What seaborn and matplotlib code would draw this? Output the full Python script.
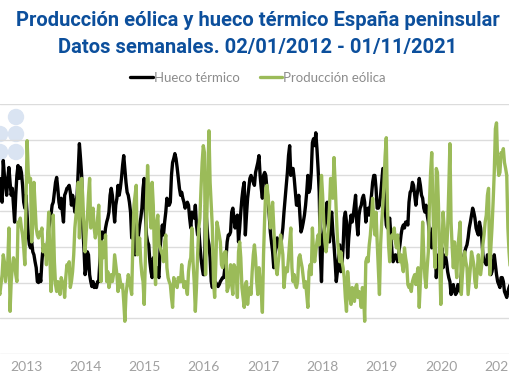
import numpy as np
import pandas as pd
import matplotlib
matplotlib.use("Agg")
import matplotlib.pyplot as plt
import matplotlib.dates as mdates
from matplotlib.patches import Ellipse
from matplotlib.lines import Line2D
import seaborn as sns

# Weekly data (GWh), only the weeks visible in the chart window
start_date = "2012-07-16"

hueco_termico = [
    1700,
    1770, 1600, 1530, 1950, 1800, 1700, 1600, 1770, 1880, 1730,
    1600, 1670, 1500, 1330, 1600, 1800, 1900, 1770, 1880, 1830,
    1700, 1530, 1470, 1600, 1400, 1200, 1100, 1070, 1130, 1030,
    1000, 930, 870, 730, 720, 800, 730, 930, 1070, 1030,
    1000, 1030, 1130, 1270, 1330, 1400, 1500, 1530, 1630, 1730,
    1780, 1670, 1530, 1470, 1570, 1430, 1330, 1600, 1630, 1670,
    1680, 1700, 1630, 1500, 1600, 1530, 1430, 1530, 1600, 1870,
    2120, 1970, 1800, 1270, 1070, 800, 870, 1030, 1000, 800,
    730, 680, 730, 670, 700, 670, 730, 730, 930, 1130,
    1230, 1200, 1170, 1270, 1330, 1370, 1430, 1600, 1670, 1600,
    1470, 1330, 1500, 1570, 1700, 1600, 1670, 1770, 1900, 2000,
    1870, 1730, 1630, 1600, 1530, 1430, 1170, 1330, 1430, 1000,
    1030, 1070, 1200, 1300, 1370, 1470, 1670, 1770, 1430, 1200,
    1130, 1100, 930, 830, 770, 970, 930, 830, 870, 800,
    770, 1070, 1200, 1300, 1200, 1330, 1430, 1570, 1500, 1500,
    1530, 1800, 1930, 1970, 2020, 1970, 1880, 1770, 1670, 1600,
    1630, 1570, 1530, 1470, 1500, 1530, 1500, 1370, 1270, 1430,
    1400, 1370, 1500, 1300, 1200, 1270, 1100, 970, 870, 800,
    800, 1500, 1330, 1170, 1100, 970, 730, 670, 770, 730,
    720, 700, 680, 700, 730, 750, 770, 770, 870, 970,
    1130, 1200, 1200, 1230, 1430, 1470, 1370, 1270, 1330, 1400,
    1130, 1270, 1430, 1570, 1670, 1730, 1200, 1400, 1570, 1670,
    1770, 1800, 1770, 1730, 1700, 1830, 1880, 1930, 2000, 1800,
    1670, 1570, 1800, 1830, 1800, 1670, 1530, 1400, 1230, 1130,
    1030, 870, 1000, 1070, 1170, 1100, 1070, 1100, 1170, 1270,
    1430, 1570, 1700, 1830, 2000, 2100, 1800, 1870, 1870, 1770,
    1630, 1500, 1500, 1600, 1400, 1230, 1270, 1330, 1400, 1500,
    1630, 1800, 1630, 1670, 1830, 2130, 2170, 2100, 2230, 2070,
    1870, 1630, 1000, 730, 1170, 1230, 1300, 1430, 1530, 1330,
    1130, 1370, 1430, 1230, 1100, 930, 730, 830, 970, 1100,
    830, 900, 1070, 1370, 1430, 1330, 970, 1170, 1300, 1400,
    1330, 1400, 1500, 1600, 1330, 1200, 1400, 1470, 1500, 1570,
    1600, 1530, 1330, 1430, 1470, 1400, 1500, 1600, 1730, 1800,
    1800, 1670, 1470, 1470, 1500, 1600, 1730, 1870, 1670, 1470,
    1300, 1270, 1330, 1370, 1200, 1030, 930, 970, 1000, 970,
    930, 1030, 1100, 1200, 1270, 1300, 1270, 1330, 1330, 1300,
    1530, 1630, 1650, 1730, 1700, 1600, 1500, 1600, 1670, 1770,
    1700, 1600, 1570, 1470, 1430, 1500, 1400, 1330, 1200, 1130,
    1070, 1270, 1200, 1130, 770, 930, 1000, 900, 1000, 1070,
    870, 970, 1000, 930, 830, 770, 730, 600, 670, 700,
    630, 600, 620, 700, 670, 630, 800, 900, 970, 1030,
    1070, 1100, 1170, 1270, 1330, 1400, 1470, 1430, 1370, 1270,
    1230, 1200, 1330, 1270, 1170, 1000, 930, 930, 900, 1000,
    970, 870, 800, 830, 900, 1000, 900, 800, 730, 700,
    670, 770, 770, 730, 630, 600, 570, 630, 670, 700,
    800,
]

produccion_eolica = [
    650,
    600, 700, 800, 1000, 930, 730, 830, 930, 1270, 430,
    730, 870, 970, 930, 800, 730, 1330, 1300, 1370, 1270,
    1200, 1070, 900, 1500, 2150, 1830, 1730, 1770, 1130, 1330,
    1730, 1500, 1270, 1200, 1170, 1230, 1200, 1270, 1030, 1100,
    1070, 900, 1170, 1430, 1000, 630, 770, 1400, 930, 700,
    630, 730, 670, 600, 770, 730, 700, 570, 770, 900,
    870, 930, 670, 730, 830, 1000, 1270, 1400, 1530, 1730,
    1170, 1500, 1770, 1570, 1270, 1030, 1230, 1370, 1600, 1770,
    1270, 1400, 1470, 1270, 1170, 1230, 1370, 1500, 1000, 730,
    1130, 970, 1030, 1200, 730, 830, 670, 730, 800, 730,
    800, 1000, 900, 800, 630, 800, 730, 670, 700, 530,
    330, 600, 700, 800, 730, 670, 600, 1100, 1500, 1600,
    1700, 1000, 1100, 1170, 930, 800, 730, 500, 930, 1500,
    1900, 1600, 1430, 1270, 1730, 1500, 1000, 700, 1330, 1400,
    1100, 1070, 1030, 1000, 930, 1130, 1200, 870, 770, 730,
    700, 570, 470, 770, 730, 700, 670, 770, 730, 730,
    900, 770, 670, 730, 670, 600, 830, 930, 970, 1270,
    930, 730, 430, 670, 1000, 1270, 1370, 1670, 1930, 2100,
    2030, 800, 1330, 1770, 2250, 1730, 1500, 1270, 730, 570,
    900, 1330, 1270, 1200, 1130, 900, 870, 1000, 1030, 1030,
    630, 670, 770, 900, 700, 600, 900, 870, 800, 570,
    1030, 1130, 970, 670, 570, 470, 700, 730, 500, 630,
    670, 600, 830, 1000, 1100, 970, 730, 600, 870, 730,
    630, 420, 1000, 1370, 1670, 1700, 1600, 1430, 1270, 1430,
    1530, 1270, 1030, 870, 800, 930, 1030, 1200, 1100, 1000,
    670, 800, 870, 830, 970, 1130, 1270, 870, 730, 800,
    700, 670, 730, 970, 1000, 930, 870, 770, 670, 730,
    600, 470, 830, 900, 800, 1270, 1030, 930, 1030, 1130,
    1200, 1100, 1530, 1800, 1600, 1330, 1130, 1030, 1130, 1270,
    1470, 1770, 1700, 1570, 1980, 1730, 1430, 1170, 1030, 930,
    1030, 930, 870, 770, 570, 430, 830, 700, 570, 500,
    670, 600, 530, 670, 700, 570, 630, 570, 470, 670,
    600, 330, 930, 970, 930, 1100, 1200, 1370, 1570, 1330,
    1200, 1430, 1130, 870, 600, 1100, 1330, 1500, 1730, 2000,
    2180, 1500, 1100, 930, 1170, 1200, 1170, 1270, 1130, 1070,
    1200, 1030, 930, 1000, 900, 830, 1070, 970, 900, 700,
    670, 700, 630, 730, 770, 800, 700, 800, 870, 470,
    730, 930, 1330, 1000, 770, 670, 870, 1030, 1530, 1830,
    2030, 1500, 1100, 870, 1870, 1830, 1470, 930, 500, 1070,
    1430, 1270, 1130, 1000, 1270, 1670, 2120, 1330, 1070, 870,
    1130, 930, 770, 1070, 1200, 1330, 600, 800, 930, 1030,
    930, 870, 600, 730, 870, 1030, 970, 900, 730, 670,
    830, 1000, 830, 800, 900, 1100, 1200, 1330, 1400, 1600,
    1670, 800, 1070, 1270, 1530, 1830, 2270, 2330, 1930, 1800,
    1830, 2030, 2000, 2070, 1930, 1870, 1800, 1270, 1030, 870,
    700,
]

series_names = ["Hueco térmico", "Producción eólica"]
series_colors = ["#000000", "#9bbb59"]
title_lines = [
    "Producción eólica y hueco térmico España peninsular",
    "Datos semanales. 02/01/2012 - 01/11/2021",
]

W, H = 510, 382


def build_frame():
    fechas = pd.date_range(start_date, periods=len(hueco_termico), freq="7D")
    df = pd.DataFrame({
        "fecha": fechas,
        series_names[0]: hueco_termico,
        series_names[1]: produccion_eolica,
    })
    return df.melt(id_vars="fecha", var_name="serie", value_name="valor")


def main():
    sns.set_theme(style="white")
    plt.rcParams["font.family"] = ["Lato", "DejaVu Sans"]

    data = build_frame()

    fig = plt.figure(figsize=(W / 100, H / 100), dpi=100)
    ax = fig.add_axes([0, 28 / H, 1, 250 / H])
    ax.patch.set_alpha(0)

    # decorative dots in the top-left corner
    for cx, cy in [(16, 117), (16, 134), (16, 152), (0, 134), (0, 152)]:
        fig.add_artist(Ellipse((cx / W, 1 - cy / H), 15 / W, 15 / H,
                               transform=fig.transFigure, color="#dae4f2",
                               zorder=-1))

    sns.lineplot(data=data, x="fecha", y="valor", hue="serie",
                 hue_order=series_names,
                 palette=dict(zip(series_names, series_colors)),
                 linewidth=2.4, estimator=None, legend=False, ax=ax)

    ax.set_xlim(pd.Timestamp("2012-07-24"), pd.Timestamp("2021-02-28"))
    ax.set_ylim(0, 2520)
    ax.set_yticks(np.arange(0, 2521, 360))
    ax.set_yticklabels([])
    ax.yaxis.grid(True, color="#dcdcdc", linewidth=1)
    ax.set_axisbelow(True)
    for s in ax.spines.values():
        s.set_visible(False)

    ax.xaxis.set_major_locator(mdates.YearLocator())
    ax.xaxis.set_major_formatter(mdates.DateFormatter("%Y"))
    ax.tick_params(axis="x", length=0, pad=5, labelsize=10, labelcolor="#a0a0a0")
    ax.tick_params(axis="y", length=0)
    ax.set_xlabel("")
    ax.set_ylabel("")

    title_font = dict(ha="center", va="center", fontsize=14.5,
                      fontweight="bold", color="#0c4f9c",
                      family=["Roboto", "DejaVu Sans"])
    fig.text(0.506, 1 - 20 / H, title_lines[0], **title_font)
    fig.text(0.506, 1 - 47 / H, title_lines[1], **title_font)

    handles = [Line2D([], [], color=c, linewidth=2.4) for c in series_colors]
    leg = ax.legend(handles, series_names, loc="center",
                    bbox_to_anchor=(0.506, 1 - 78 / H),
                    bbox_transform=fig.transFigure, ncol=2, frameon=False,
                    fontsize=9.5, handlelength=1.7, handletextpad=0.1,
                    columnspacing=1.5)
    for t in leg.get_texts():
        t.set_color("#8c8c8c")

    fig.savefig("out.png", dpi=100)


if __name__ == "__main__":
    main()
